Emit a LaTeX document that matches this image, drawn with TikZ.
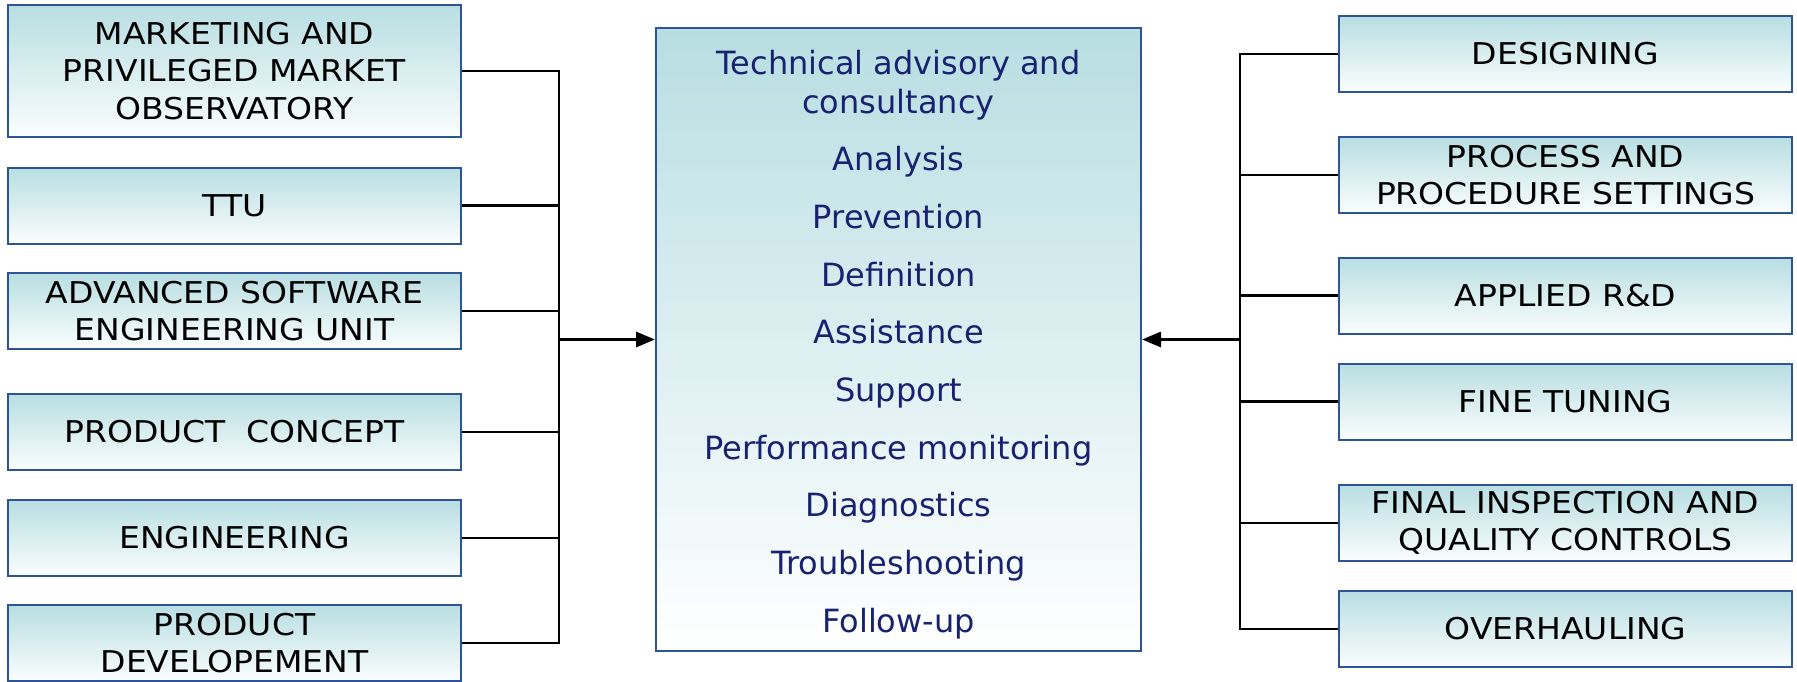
\documentclass[tikz,border=0pt]{standalone}
\usepackage{fontspec}
\setmainfont{DejaVu Sans}
\newfontfamily\boxfont[FakeStretch=1.1]{DejaVu Sans}
\usetikzlibrary{arrows.meta}
\definecolor{boxtop}{RGB}{184,222,226}
\definecolor{boxbot}{RGB}{250,253,253}
\definecolor{boxedge}{RGB}{47,84,150}
\definecolor{navytext}{RGB}{24,34,112}
\tikzset{
  unit/.style={draw=boxedge, line width=1pt, top color=boxtop, bottom color=boxbot,
    minimum width=226.5pt, minimum height=38pt, inner sep=0pt, align=center,
    font=\boxfont\fontsize{15}{18.75}\selectfont, text=black},
  hub/.style={draw=boxedge, line width=1pt, top color=boxtop, bottom color=white,
    minimum width=242.5pt, minimum height=311.5pt, inner sep=0pt, align=center,
    font=\fontsize{16}{19.5}\selectfont, text=navytext},
  conn/.style={draw=black, line width=1.4pt},
  arr/.style={draw=black, line width=1.6pt, -{Triangle[length=9.5pt,width=7.5pt]}}
}
\begin{document}
\begin{tikzpicture}[x=0.5pt,y=-0.5pt]
\useasboundingbox (0,0) rectangle (1797,681);
% left column
\node[unit, minimum height=66pt] (mkt) at (234.5,71) {MARKETING AND\\PRIVILEGED MARKET\\OBSERVATORY};
\node[unit] (ttu) at (234.5,205.5) {TTU};
\node[unit] (asu) at (234.5,311) {ADVANCED SOFTWARE\\ENGINEERING UNIT};
\node[unit] (pc) at (234.5,432) {PRODUCT~~CONCEPT};
\node[unit] (eng) at (234.5,538) {ENGINEERING};
\node[unit] (pd) at (234.5,643) {PRODUCT\\DEVELOPEMENT};
% centre
\node[hub] (hubbox) at (898.5,339.5) {\rule{0pt}{17pt}Technical advisory and\\consultancy\\[9.35pt]
Analysis\\[9.35pt]Prevention\\[9.35pt]Definition\\[9.35pt]Assistance\\[9.35pt]Support\\[9.35pt]
Performance monitoring\\[9.35pt]Diagnostics\\[9.35pt]Troubleshooting\\[9.35pt]Follow-up};
% right column
\node[unit] (des) at (1565.5,54) {DESIGNING};
\node[unit] (proc) at (1565.5,175) {PROCESS AND\\PROCEDURE SETTINGS};
\node[unit] (rd) at (1565.5,295.5) {APPLIED R\&D};
\node[unit] (fine) at (1565.5,401.5) {FINE TUNING};
\node[unit] (insp) at (1565.5,523) {FINAL INSPECTION AND\\QUALITY CONTROLS};
\node[unit] (ovh) at (1565.5,629) {OVERHAULING};
% buses
\coordinate (lbus) at (559,339.5);
\coordinate (rbus) at (1240,339.5);
\draw[conn] (mkt.east) -- (mkt.east -| lbus) -- (pd.east -| lbus) -- (pd.east);
\foreach \n in {ttu,asu,pc,eng} \draw[conn] (\n.east) -- (\n.east -| lbus);
\draw[conn] (des.west) -- (des.west -| rbus) -- (ovh.west -| rbus) -- (ovh.west);
\foreach \n in {proc,rd,fine,insp} \draw[conn] (\n.west) -- (\n.west -| rbus);
\draw[arr] (lbus) -- (hubbox.west);
\draw[arr] (rbus) -- (hubbox.east);
\end{tikzpicture}
\end{document}
